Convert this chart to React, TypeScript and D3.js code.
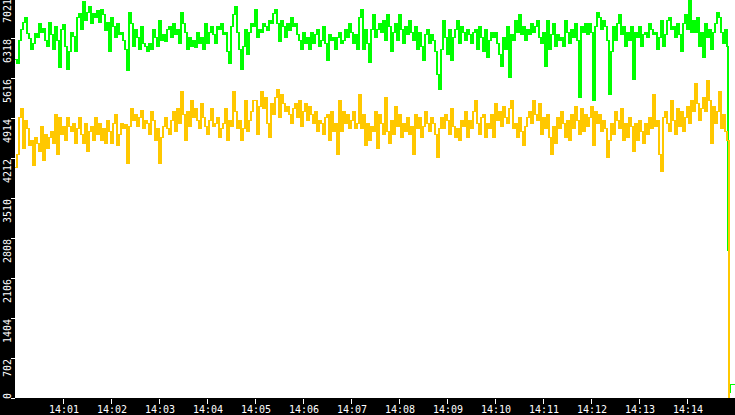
import React from "react";
import * as d3 from "d3";

// ---- data ----
const START = new Date(2000, 0, 1, 14, 0, 0);
const END = new Date(2000, 0, 1, 14, 15, 0);
const SAMPLE_SECONDS = 2.5;

const yTickValues = [0, 702, 1404, 2106, 2808, 3510, 4212, 4914, 5616, 6318, 7021];
const yMax = 7021;

// green series, 14:00:00 - 14:05:00
const greenA = [
  5960, 5900, 6300, 6500, 6620, 6700, 6420, 6330, 6150, 6250, 6430, 6350, 6600, 6450, 6520, 6300, 6200, 6620, 6400, 6150,
  6550, 6300, 5830, 6500, 6580, 6200, 5800, 6100, 6450, 6380, 6100, 6700, 6780, 6500, 6980, 6650, 6800, 6900, 6600, 6780,
  6700, 6820, 6620, 6850, 6750, 6480, 6620, 6100, 6700, 6550, 6350, 6600, 6400, 6450, 6300, 6150, 5770, 6800, 6600, 6200,
  6500, 6350, 6150, 6550, 6250, 6200, 6100, 6250, 6150, 6500, 6350, 6200, 6650, 6300, 6400, 6280, 6500, 6550, 6350, 6600,
  6400, 6500, 6250, 6800, 6600, 6450, 6150, 6350, 6200, 6300, 6180, 6450, 6250, 6350, 6150, 6600, 6250, 6450, 6550, 6400,
  6250, 6550, 6500, 6600, 6400, 6450, 6100, 5900, 6550, 6750, 6900, 6450, 6150, 5800, 6200, 6500, 6050, 6450, 6600, 6550,
];
// green series, 14:05:00 - 14:10:00
const greenB = [
  6850, 6350, 6500, 6450, 6600, 6550, 6480, 6650, 6600, 6780, 6850, 6600, 6280, 6650, 6550, 6350, 6600, 6480, 6700, 6550,
  6600, 6400, 6300, 6150, 6450, 6250, 6350, 6150, 6450, 6250, 6400, 6500, 6200, 6300, 6550, 6250, 5950, 6400, 6300, 6350,
  6150, 6350, 6450, 6250, 6300, 6500, 6350, 6600, 6450, 6250, 6400, 6150, 6700, 6850, 6150, 6500, 6250, 5920, 6500, 6750,
  6350, 6500, 6600, 6450, 6650, 6300, 6750, 6550, 6100, 6450, 6600, 6300, 6750, 6500, 6250, 6550, 6400, 6650, 6450, 6300,
  6550, 6150, 6450, 6200, 5950, 6400, 6500, 6250, 6400, 6300, 6100, 5700, 5450, 6150, 6650, 6350, 6050, 6500, 5950, 6350,
  6500, 6650, 6250, 6550, 6450, 6300, 6500, 6400, 6250, 6450, 6500, 6150, 6550, 6350, 6100, 6500, 6000, 6300, 6450, 6350,
];
// green series, 14:10:00 - 14:14:50
const greenC = [
  6450, 6250, 6050, 5850, 6350, 6150, 6550, 5650, 6400, 6300, 6650, 6450, 6750, 6400, 6550, 6300, 6500, 6400, 6600, 6450,
  6550, 6650, 6350, 6250, 6450, 5850, 6650, 6150, 6400, 6600, 6200, 6400, 6300, 6350, 6200, 6650, 6450, 6250, 6500, 6350,
  6600, 6300, 5300, 6550, 6450, 6600, 6400, 6600, 6450, 5250, 6550, 6800, 6700, 6500, 6650, 6550, 6300, 5350, 6100, 6550,
  6300, 6600, 6750, 6400, 6550, 6200, 6450, 6300, 6550, 5620, 6450, 6350, 6550, 6200, 6400, 6450, 6350, 6600, 6500, 6400,
  6450, 6150, 6350, 6650, 6200, 6400, 6650, 6700, 6500, 6550, 6350, 6600, 6400, 6100, 6600, 6750, 6500, 7000, 6450, 6650,
  6450, 6700, 6200, 6450, 6000, 6600, 6350, 6500, 6150, 6450, 6600, 6800, 6700, 6450, 6250, 6500, 6200,
];

// yellow series, 14:00:00 - 14:05:00
const yellowA = [
  4080, 4300, 4950, 5100, 4400, 4900, 4750, 4450, 4550, 4100, 4600, 4500, 4350, 4800, 4200, 4650, 4400, 4600, 4700, 4500,
  5000, 4300, 4950, 4650, 4800, 4550, 4950, 4800, 4700, 4850, 4500, 4750, 4950, 4650, 4500, 4850, 4350, 4700, 4800, 4550,
  4950, 4650, 4850, 4550, 4750, 4500, 4900, 4700, 4500, 4850, 5000, 4450, 4650, 4850, 4750, 4820, 4150, 4800, 5100, 4900,
  5000, 4800, 4950, 5080, 4750, 4900, 4850, 4650, 5050, 4900, 4550, 4750, 4150, 4600, 4800, 4950, 4750, 4650, 4900, 5050,
  4700, 5100, 4850, 5400, 5000, 4550, 5050, 4800, 5250, 4950, 5100, 4900, 4750, 5200, 4950, 4800, 4650, 4900, 5100, 4800,
  4850, 4950, 4600, 4750, 4850, 5100, 4550, 4900, 4800, 5400, 5050, 4750, 4900, 4550, 4750, 5250, 4700, 4900, 5050, 5250,
];
// yellow series, 14:05:00 - 14:10:00
const yellowB = [
  5250, 4650, 5150, 5400, 5100, 5300, 4850, 4600, 5200, 5000, 5300, 5450, 4950, 5350, 5200, 5050, 5150, 5000, 4850, 5100,
  5200, 4950, 5250, 4800, 5050, 5200, 4900, 5150, 5000, 4850, 5050, 4700, 4900, 4850, 4650, 4950, 5000, 4550, 5050, 4700,
  4850, 4300, 5250, 4700, 5050, 4850, 5000, 4750, 4900, 5050, 4750, 4850, 5350, 4750, 5000, 4450, 4850, 4550, 4800, 4700,
  5050, 4400, 5000, 4850, 4650, 5300, 4700, 4500, 4900, 4650, 5150, 4800, 5000, 4600, 4850, 4700, 4950, 4650, 4800, 4300,
  5000, 4750, 4950, 4600, 4800, 5050, 4850, 4700, 4950, 4850, 4650, 4250, 4750, 4950, 4750, 5000, 4900, 4650, 5100, 4800,
  4600, 4750, 4550, 4900, 4800, 5050, 4600, 4900, 4750, 5050, 5250, 4850, 4650, 4950, 5000, 4600, 4850, 4750, 5000, 4600,
];
// yellow series, 14:10:00 - 14:14:50
const yellowC = [
  5200, 4900, 5050, 4800, 5150, 4950, 4850, 5100, 5250, 4750, 4850, 4600, 4950, 4700, 4450, 4800, 4950, 5050, 4850, 5250,
  5000, 4900, 5200, 4650, 4950, 4750, 5000, 4600, 4300, 4800, 4500, 4950, 4750, 5050, 4850, 4600, 4900, 4550, 5000, 4750,
  5150, 4900, 4650, 5100, 4700, 5000, 4800, 4950, 5150, 4450, 5050, 4850, 5000, 4700, 4900, 4750, 4250, 4550, 4850, 4650,
  5050, 4900, 4750, 5100, 4550, 4850, 4600, 4950, 4800, 4350, 4850, 4550, 4900, 4700, 4500, 4850, 4650, 4950, 4750, 5350,
  4800, 4900, 4300, 4000, 4950, 5050, 4850, 4700, 5250, 4900, 4650, 5100, 4800, 5050, 4700, 4950, 5150, 4850, 5250, 5050,
  5550, 5200, 4900, 5100, 5300, 5050, 5600, 5250, 4500, 5150, 4850, 5050, 5400, 4750, 5000, 4700, 4550,
];

// final seconds after 14:00:00 where the counters collapse
const tailSeconds = [891, 892, 893.5, 900];
const greenTail = [2615, 123, 263, 263];
const yellowTail = [4550, 0, 0, 0];

const GREEN = "#00ff00";
const YELLOW = "#ffc800";

// ---- layout ----
const W = 735;
const H = 415;
const LEFT = 15;
const BOTTOM = 398;

type Pt = [Date, number];

function buildSeries(main: number[], tail: number[]): Pt[] {
  const pts: Pt[] = main.map((v, i) => [d3.timeMillisecond.offset(START, i * SAMPLE_SECONDS * 1000), v]);
  tail.forEach((v, i) => pts.push([d3.timeMillisecond.offset(START, tailSeconds[i] * 1000), v]));
  return pts;
}

export default function App() {
  const green = buildSeries([...greenA, ...greenB, ...greenC], greenTail);
  const yellow = buildSeries([...yellowA, ...yellowB, ...yellowC], yellowTail);

  const x = d3.scaleTime().domain([START, END]).range([LEFT, W]);
  const y = d3.scaleLinear().domain([0, yMax]).range([399, -1]);

  const line = d3
    .line<Pt>()
    .x((d) => Math.round(x(d[0])) - 0.5)
    .y((d) => Math.round(y(d[1])) + 0.5)
    .curve(d3.curveStepAfter);

  const gPath = line(green) || "";
  const yPath = line(yellow) || "";

  const xTicks = x.ticks(d3.timeMinute.every(1)!).filter((t) => +t > +START && +t < +END);
  const fmt = d3.timeFormat("%H:%M");

  const font = "'DejaVu Sans Mono', monospace";

  return (
    <svg
      width={W}
      height={H}
      style={{ position: "absolute", left: 0, top: 0, display: "block", background: "#fff" }}
    >
      <defs>
        <clipPath id="plot">
          <rect x={LEFT} y={0} width={W - LEFT} height={BOTTOM} />
        </clipPath>
      </defs>
      <rect x={LEFT} y={0} width={W - LEFT} height={BOTTOM} fill="#ffffff" />
      <g clipPath="url(#plot)" shapeRendering="crispEdges">
        <g>
          <path d={gPath} fill="none" stroke={GREEN} strokeWidth={1} />
          <path d={gPath} fill="none" stroke={GREEN} strokeWidth={1} transform="translate(1,0)" />
        </g>
        <g>
          <path d={yPath} fill="none" stroke={YELLOW} strokeWidth={1} />
          <path d={yPath} fill="none" stroke={YELLOW} strokeWidth={1} transform="translate(1,0)" />
        </g>
      </g>

      {/* axis bands */}
      <rect x={0} y={0} width={LEFT} height={H} fill="#000" />
      <rect x={0} y={BOTTOM} width={W} height={H - BOTTOM} fill="#000" />

      {/* y axis */}
      <g shapeRendering="crispEdges">
        {yTickValues.map((v) => {
          const ty = Math.round(y(v));
          return <line key={"yt" + v} x1={11} x2={15} y1={ty - 0.5} y2={ty - 0.5} stroke="#fff" strokeWidth={1} />;
        })}
      </g>
      {yTickValues.map((v, i) => {
        const ty = Math.round(y(v));
        const anchor = i === 0 ? "start" : "end";
        return (
          <text
            key={"yl" + v}
            transform={`translate(10.5,${ty}) rotate(-90)`}
            textAnchor={anchor}
            fill="#fff"
            fontFamily={font}
            fontSize={10}
          >
            {String(v)}
          </text>
        );
      })}

      {/* x axis */}
      <g shapeRendering="crispEdges">
        {xTicks.map((t) => {
          const tx = Math.round(x(t)) + 0.5;
          return <line key={"xt" + +t} x1={tx} x2={tx} y1={399} y2={404} stroke="#fff" strokeWidth={1} />;
        })}
      </g>
      {xTicks.map((t) => (
        <text
          key={"xl" + +t}
          x={x(t) + 1}
          y={413}
          textAnchor="middle"
          fill="#fff"
          fontFamily={font}
          fontSize={10}
        >
          {fmt(t)}
        </text>
      ))}
    </svg>
  );
}
